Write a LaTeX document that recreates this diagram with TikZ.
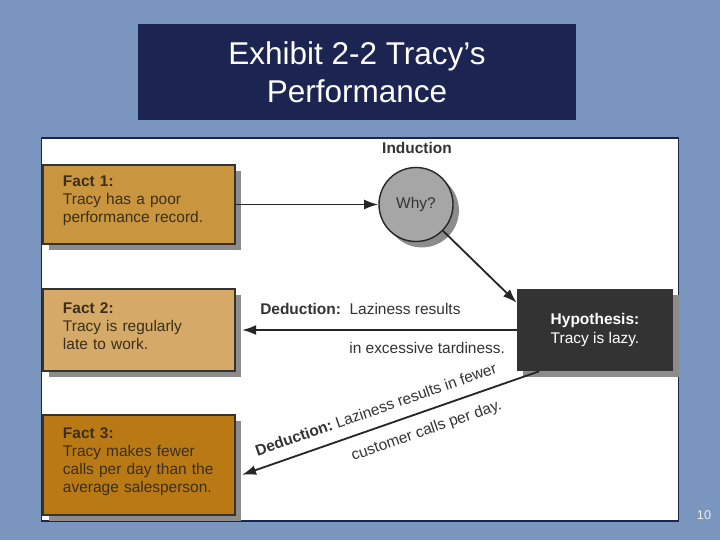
\documentclass[tikz,border=0pt]{standalone}
\usepackage{fontspec}
\setmainfont{Liberation Sans}
\usetikzlibrary{arrows.meta,shadows,positioning}
\definecolor{slide}{HTML}{7A96BE}
\definecolor{titlebar}{HTML}{1C2452}
\definecolor{factA}{HTML}{C9963F}
\definecolor{factB}{HTML}{D5AA68}
\definecolor{factC}{HTML}{B97A16}
\definecolor{facttext}{HTML}{3B2E1A}
\definecolor{hypfill}{HTML}{333333}
\begin{document}
\begin{tikzpicture}[x=0.025cm,y=-0.025cm, >={Latex[length=10pt,width=7pt]},
  boxshadow/.style={drop shadow={shadow xshift=4.2pt, shadow yshift=-4.2pt, fill=black!45, opacity=1}},
  fact/.style={draw=black!80, line width=0.9pt, rectangle, minimum width=4.8cm, minimum height=#1,
    text width=3.8cm, align=left, inner xsep=0.5cm, text=facttext,
    font=\fontsize{11}{12.8}\selectfont, execute at end node={\endgraf\vspace*{5pt}}, boxshadow},
  link/.style={line width=1.3pt, draw=black!85},
  lbl/.style={font=\fontsize{11}{13}\selectfont, text=black!80, inner sep=0pt}]
\useasboundingbox (0,0) rectangle (720,540);
\fill[slide] (0,0) rectangle (720,540);

% title and panel
\node[fill=titlebar, minimum width=10.95cm, minimum height=2.4cm, text=white, align=center,
  font=\fontsize{22.4}{27}\selectfont] (title) at (357,72) {Exhibit 2-2 Tracy’s\\Performance};
\node[draw=titlebar, fill=white, line width=0.8pt, minimum width=15.9cm, minimum height=9.575cm,
  inner sep=0pt] (panel) at (360,329.5) {};
\node[text=white!85!slide, font=\fontsize{9}{11}\selectfont] (pagenum) at (704,515) {10};

% facts
\node[fact=1.975cm, fill=factA] (fact1) at (139,204.5) {\textbf{Fact 1:}\\Tracy has a poor\\performance record.};
\node[fact=2.05cm, fill=factB] (fact2) at (139,330) {\textbf{Fact 2:}\\Tracy is regularly\\late to work.};
\node[fact=2.5cm, fill=factC] (fact3) at (139,465) {\textbf{Fact 3:}\\Tracy makes fewer\\calls per day than the\\average salesperson.};

% induction and hypothesis
\node[lbl, font=\fontsize{11}{13}\selectfont\bfseries] (induction) at (417,148) {Induction};
\node[circle, draw=black!85, line width=1pt, fill=black!35, minimum size=1.85cm, text=black!80,
  font=\fontsize{11}{13}\selectfont, boxshadow] (why) at (416,204.5) {Why?};
\node[rectangle, fill=hypfill, minimum width=3.9cm, minimum height=2.05cm, text=white, align=left,
  font=\fontsize{11}{13}\selectfont, boxshadow] (hyp) at (595,330) {\textbf{Hypothesis:}\\Tracy is lazy.};

\draw[link, ->] (fact1.east) -- (why.west);
\draw[link, ->] (why) -- ([yshift=-10pt]hyp.north west);
\draw[link, ->] (hyp.west) -- ([xshift=4.5pt]fact2.east)
  node[lbl, pos=.569, above=10pt] (ded2a) {\textbf{Deduction:}\ \ Laziness results}
  node[lbl, pos=.326, below=7.8pt] (ded2b) {in excessive tardiness.};
\draw[link, <-] ([xshift=4.5pt,yshift=-7pt]fact3.east) -- ([xshift=16pt]hyp.south west)
  node[lbl, pos=.47, sloped, above=8pt] (ded3a) {\textbf{Deduction:}\ Laziness results in fewer}
  node[lbl, pos=.6, sloped, below=8pt] (ded3b) {customer calls per day.};
\end{tikzpicture}
\end{document}
